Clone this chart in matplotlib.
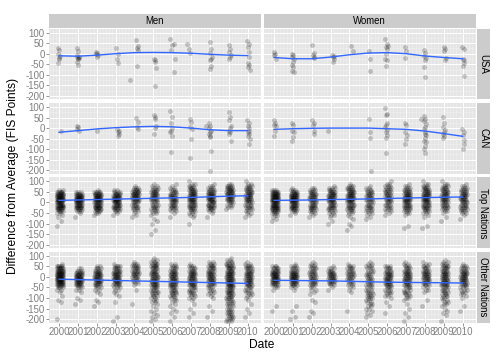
import numpy as np
import matplotlib
matplotlib.use('Agg')
import matplotlib.pyplot as plt
from matplotlib.ticker import MultipleLocator

plt.rcParams['font.family'] = ['Liberation Sans', 'DejaVu Sans']

### Data
years = list(range(2000, 2011))
y_ticks = [100, 50, 0, -50, -100, -150, -200]
genders = ['Men', 'Women']
groups = ['USA', 'CAN', 'Top Nations', 'Other Nations']
bin_values = list(range(-210, 101, 10))   # bins for the dense panels (-210 .. 100)

# sparse panels: date -> difference values
usa_men = {2000.0: [28, 16, 0, -12, -20, -46, -24],
           2001.0: [28, 12, -4, -16, -24, -38, -54, -16, -20, -22],
           2002.0: [8, 4, 0, -4, -16],
           2003.1: [28, 0, -24, -44],
           2003.8: [-124],
           2004.15: [64, 38, 28, 16, -60],
           2005.1: [-24, -32, -38, -70, -154],
           2005.95: [70, 40, 16],
           2006.15: [48, -24, -88],
           2006.85: [44, 20],
           2007.0: [4],
           2008.05: [56, 20, 4, -16, -24, -32, -60, -72],
           2009.05: [40, 20, 8, -4, -16, -24],
           2010.05: [60, 48, 32, 8, -16, -44, -54, -64, -76]}
usa_women = {2000.05: [8, 0, -4, -24],
             2001.0: [0, -8, -16, -24, -40, -54, -64, -80, -88],
             2002.1: [40, 4, -4, -16, -20],
             2003.15: [-4, -12, -16, -24, -38],
             2004.15: [38, 12],
             2005.1: [12, -24, -80],
             2005.95: [70, 48, 32, 20, 0, -24, -32, -60],
             2006.1: [38],
             2007.0: [32, 12, -20],
             2008.0: [16, 4, -12, -20, -32, -64, -112],
             2009.05: [32, 20, 12, -20, -32],
             2010.05: [32, 24, -24, -32, -44, -56, -104]}
can_men = {2000.15: [-12],
           2001.0: [12, 4, -6, -16],
           2002.1: [-16],
           2003.15: [-4, -12, -20, -28, -36],
           2004.15: [46, 30, 4, -6],
           2005.1: [64, 54, 42, 12, 0, -28],
           2005.95: [80, 54, 26, 0, -12, -20, -36, -112],
           2007.0: [42, 30, 4, -4, -54, -140],
           2007.85: [12],
           2008.0: [26, 12, 0, -12, -20, -28, -36, -44, -108, -205],
           2009.05: [74, 54, 38, 12, 0, -12, -20, -28, -60],
           2010.05: [38, 26, 12, 0, -12, -20, -28, -36, -52, -76]}
can_women = {2000.05: [38, 26, 16, 10, -16, -38],
             2001.0: [26, 16, -12, -20, -44, -60],
             2002.1: [38, 26, 16, -12, -28],
             2002.9: [-16],
             2005.1: [42, -20, -48, -205],
             2005.95: [94, 69, 61, 26, 16, 5, -11, -19, -35, -48, -119],
             2007.0: [26, 16, -19, -35, -51, -76],
             2007.85: [45],
             2008.0: [58, 42, 32, 21, 5, -6, -19, -27, -35, -48, -60, -68, -84, -100, -116],
             2009.0: [53, 26, 5, -11, -19, -27, -39, -48],
             2010.05: [-6, -19, -32, -55, -76, -97]}

# dense panels: year -> count of results per 10-point bin (-210 .. 100)
top_men = {2000: '0000000000 1010112468 9999986200 00',
           2001: '0000000000 0000101357 8999863000 00',
           2002: '0000000000 0000012467 8888875100 00',
           2003: '0000000000 0000011356 7888764200 00',
           2004: '0000000000 0000111234 4556676531 00',
           2005: '0000001010 0111012334 4445555432 10',
           2006: '0000000000 0000101234 5555544321 10',
           2007: '0000000000 0100122345 6666665543 21',
           2008: '0000000000 0000101245 6666665432 10',
           2009: '0000000000 0000000012 3455666654 20',
           2010: '0000000000 0000112234 4555555443 21'}
top_women = {2000: '0000000000 0011123578 9999987300 00',
             2001: '0000000000 0000011356 7888875310 00',
             2002: '0000000000 0000112345 5555554320 00',
             2003: '0000000000 0110122345 5666665431 00',
             2004: '0000000010 1101112345 5666665543 10',
             2005: '0000000000 0001112334 4444444321 00',
             2006: '0000000000 0000011233 4444444433 21',
             2007: '0000000001 1000012345 6666655432 10',
             2008: '0000000001 1000112345 6666665543 21',
             2009: '0000000000 0010101234 5555555443 21',
             2010: '0000000000 0001012344 5555554432 10'}
other_men = {2000: '0100000001 1010124689 9999985100 00',
             2001: '0000000010 1100123567 7776420000 00',
             2002: '0000000101 1001123456 6666542000 00',
             2003: '1010000001 0011123456 6666654100 00',
             2004: '0000000010 0000010123 3445554310 00',
             2005: '1111111112 2233445555 5555555432 10',
             2006: '1010111111 2233445555 5555543200 00',
             2007: '0010101010 1223344555 5555543100 00',
             2008: '0010010100 0112233445 5555554320 00',
             2009: '3333333333 3444556666 6666665432 10',
             2010: '0010101010 1122334455 5555554210 00'}
other_women = {2000: '0000010100 0000012456 7777653000 00',
               2001: '0110010100 0000012456 7776543100 00',
               2002: '0010110001 1001122344 4444443210 00',
               2003: '0000000000 0000011245 5555431000 00',
               2004: '0000010000 0000112233 3444443100 00',
               2005: '0011112222 2333333333 3333333210 00',
               2006: '0000100101 0122334455 5555443000 00',
               2007: '1010101010 1223334445 5555543210 00',
               2008: '0000000100 1000122344 5555543210 00',
               2009: '1001111122 2233344555 5555554321 00',
               2010: '0000010100 0112233445 5555543100 00'}

# smooth fits read at each season
usa_men_fit = [-10, -12, -7, 0, 5, 6, 5, 2, -3, -7, -9]
usa_women_fit = [-18, -24, -24, -16, -5, 3, 5, 0, -11, -18, -24]
can_men_fit = [-20, -12, -4, 2, 6, 8, 6, 0, -8, -12, -12]
can_women_fit = [-6, -3, -1, 0, 0, 0, -3, -6, -14, -26, -39]
top_men_fit = [10, 12, 14, 16, 18, 20, 22, 24, 27, 30, 32]
top_women_fit = [10, 11, 12, 14, 15, 17, 19, 21, 23, 25, 26]
other_men_fit = [-11, -13, -15, -17, -19, -21, -23, -25, -27, -29, -31]
other_women_fit = [-16, -17, -18, -19, -21, -23, -25, -26, -27, -28, -29]

panels = {('USA', 'Men'): (usa_men, usa_men_fit, False),
          ('USA', 'Women'): (usa_women, usa_women_fit, False),
          ('CAN', 'Men'): (can_men, can_men_fit, False),
          ('CAN', 'Women'): (can_women, can_women_fit, False),
          ('Top Nations', 'Men'): (top_men, top_men_fit, True),
          ('Top Nations', 'Women'): (top_women, top_women_fit, True),
          ('Other Nations', 'Men'): (other_men, other_men_fit, True),
          ('Other Nations', 'Women'): (other_women, other_women_fit, True)}


### Functions
# horizontal jitter (deterministic)
def spread(n, width):
    k = np.arange(n)
    return ((k * 0.618034) % 1 - 0.5) * width

# expand one panel into x/y points
def points(data, dense):
    xs, ys = [], []
    for date, vals in data.items():
        if dense:
            counts = vals.replace(' ', '')
            vals = [bin_values[i] for i, c in enumerate(counts) for _ in range(int(c))]
            off = spread(len(vals), 0.36) + 0.05
        else:
            off = spread(len(vals), 0.12)
        xs.extend(date + off)
        ys.extend(vals)
    return np.array(xs), np.array(ys)


### Figure
W, H = 504, 360
fig = plt.figure(figsize=(W / 72, H / 72), dpi=72)

def box(x0, y0, w, h):
    return [x0 / W, 1 - (y0 + h) / H, w / W, h / H]

col_x = [49, 264]
pw = 211.5
row_y = [28.5, 102.9, 177.3, 251.7]
ph = 70.9
grey50 = '#7F7F7F'

for r, grp in enumerate(groups):
    for c, g in enumerate(genders):
        ax = fig.add_axes(box(col_x[c], row_y[r], pw, ph), facecolor='#E5E5E5')
        data, fit, dense = panels[(grp, g)]
        xs, ys = points(data, dense)
        ax.scatter(xs, ys, s=24, color='black', alpha=0.2, linewidths=0, zorder=2)
        ax.plot(years, fit, color='#3366FF', lw=1.4, zorder=3)

        ax.set_xlim(1999.47, 2010.68)
        ax.set_ylim(-216.7, 119.4)
        ax.set_xticks(years)
        ax.set_yticks(y_ticks)
        ax.xaxis.set_minor_locator(MultipleLocator(1 / 6))
        ax.yaxis.set_minor_locator(MultipleLocator(25))
        ax.grid(which='major', color='white', lw=1.0)
        ax.grid(which='minor', color='#F2F2F2', lw=0.5)
        ax.set_axisbelow(True)
        for s in ax.spines.values():
            s.set_visible(False)
        ax.tick_params(which='minor', length=0)
        ax.tick_params(which='major', color=grey50, labelcolor=grey50, length=3,
                       width=0.8, labelsize=9.6, pad=1.5)
        if c == 0:
            ax.set_yticklabels([str(v) for v in y_ticks])
        else:
            ax.tick_params(axis='y', left=False, labelleft=False)
        if r == 3:
            ax.set_xticklabels([str(y) for y in years])
        else:
            ax.tick_params(axis='x', bottom=False, labelbottom=False)

        # top strip
        if r == 0:
            sx = fig.add_axes(box(col_x[c], 14, pw, 13.5), facecolor='#CCCCCC')
            sx.set_xticks([]); sx.set_yticks([])
            for s in sx.spines.values():
                s.set_visible(False)
            sx.text(0.5, 0.5, g, ha='center', va='center', fontsize=9.6,
                    transform=sx.transAxes)
    # right strip
    sy = fig.add_axes(box(476.5, row_y[r], 13.5, ph), facecolor='#CCCCCC')
    sy.set_xticks([]); sy.set_yticks([])
    for s in sy.spines.values():
        s.set_visible(False)
    sy.text(0.5, 0.5, grp, ha='center', va='center', fontsize=9.6, rotation=-90,
            transform=sy.transAxes)

fig.text(262 / W, 1 - 345 / H, 'Date', ha='center', va='center', fontsize=12)
fig.text(13 / W, 1 - 175.6 / H, 'Difference from Average (FIS Points)', ha='center',
         va='center', rotation=90, fontsize=12)

fig.savefig('out.png', dpi=72, facecolor='white')
